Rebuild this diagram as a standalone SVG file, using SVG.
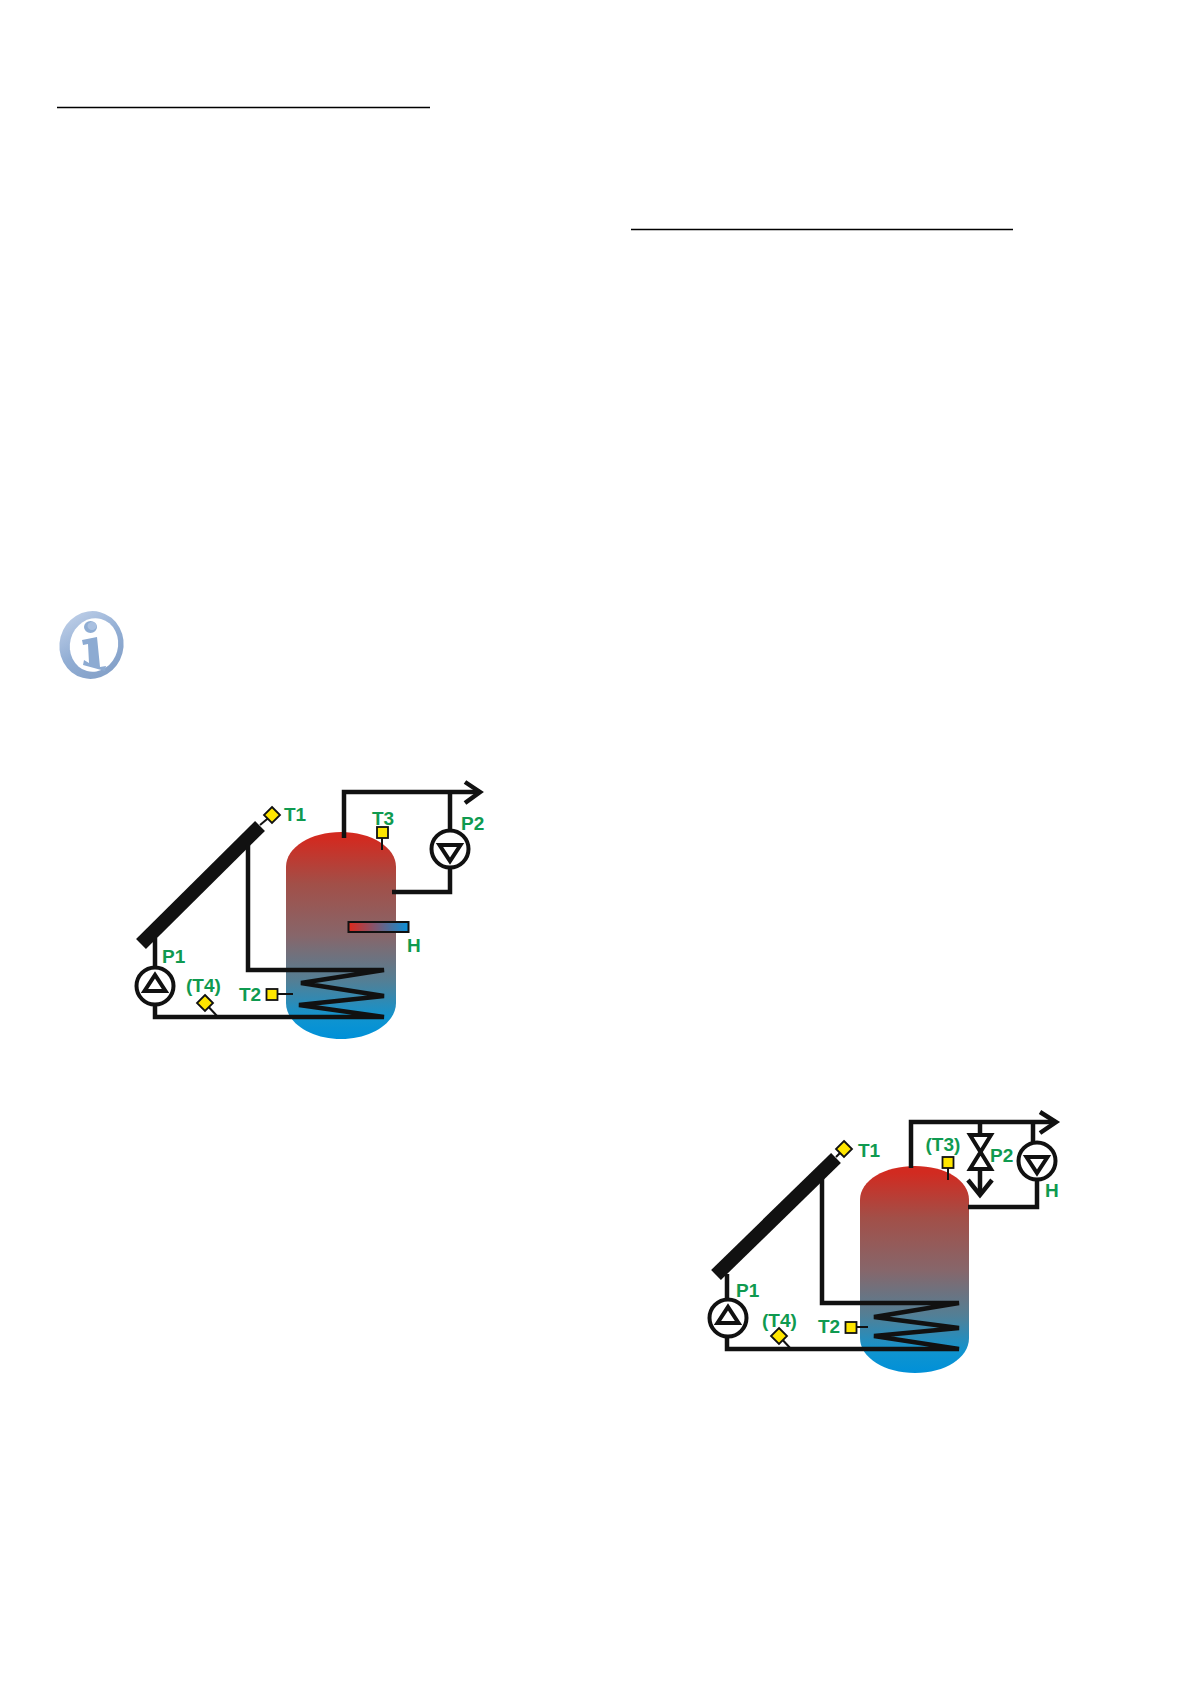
<svg xmlns="http://www.w3.org/2000/svg" width="1191" height="1684" viewBox="0 0 1191 1684">
<style>
.pipe{fill:none;stroke:#111;stroke-width:4.500;stroke-linejoin:miter}
.thin{fill:none;stroke:#111;stroke-width:2}
.col{fill:none;stroke:#111;stroke-width:14}
.pump{fill:none;stroke:#111;stroke-width:4}
.tri{fill:none;stroke:#111;stroke-width:4;stroke-linejoin:miter}
.sen{fill:#ffe600;stroke:#111;stroke-width:1.800}
.lab{font-family:"Liberation Sans",Arial,sans-serif;font-weight:700;font-size:19px;fill:#0f9a50}
.rule{stroke:#000;stroke-width:1.600}
</style>
<defs>
<linearGradient id="tank" x1="0" y1="0" x2="0" y2="1">
<stop offset="0.03" stop-color="#d22a20"/>
<stop offset="0.25" stop-color="#a24f48"/>
<stop offset="0.5" stop-color="#87666a"/>
<stop offset="0.72" stop-color="#537f95"/>
<stop offset="0.9" stop-color="#0f94d0"/>
<stop offset="1" stop-color="#0090d8"/>
</linearGradient>
<linearGradient id="heat" x1="0" y1="0" x2="1" y2="0">
<stop offset="0" stop-color="#e0281c"/>
<stop offset="1" stop-color="#0a90d8"/>
</linearGradient>
<linearGradient id="ring" x1="0" y1="0" x2="1" y2="1">
<stop offset="0" stop-color="#c8d6ec"/>
<stop offset="0.5" stop-color="#92aed4"/>
<stop offset="1" stop-color="#7f9cc4"/>
</linearGradient>
</defs>

<g id="rules">
<line class="rule" x1="57" y1="107.500" x2="430" y2="107.500"/>
<line class="rule" x1="631" y1="229.500" x2="1013" y2="229.500"/>
</g>

<g id="info-icon">
<ellipse cx="91.500" cy="645" rx="32" ry="34" fill="url(#ring)" transform="rotate(15 91.500 645)"/>
<ellipse cx="94" cy="645" rx="24" ry="27" fill="#fff" transform="rotate(15 94 645)"/>
<ellipse cx="90.500" cy="627" rx="6.500" ry="6" fill="#8fadd3"/>
<ellipse cx="92" cy="626" rx="4.500" ry="4" fill="#a9c0e0"/>
<path d="M82 640L97 637L100 667L106 666L105 671L83 665L84 660L89 663L88 644L83 645Z" fill="#8dabd2"/>
</g>

<g id="diagram-1">
<g id="tank-1"><path d="M286 867C286 847 311 832 341 832C371 832 396 847 396 867V1003C396 1023 371 1039 341 1039C311 1039 286 1023 286 1003Z" fill="url(#tank)"/></g>
<g id="heater-1"><rect x="348.500" y="922" width="60" height="10" fill="url(#heat)" stroke="#111" stroke-width="2"/><text class="lab" x="407" y="952">H</text></g>
<g id="collector-1"><line class="col" x1="141" y1="944" x2="260" y2="826"/><line class="thin" x1="260" y1="825" x2="272" y2="815"/></g>
<g id="connectors-1">
<path class="pipe" d="M344 838V792H480"/>
<path class="pipe" d="M465 782L480 792L465 803"/>
<path class="pipe" d="M450 792V832M450 866V892H392"/>
<path class="pipe" d="M248 845V970H384L301 983L384 996L299 1005L384 1017H155V1005M155 967V938"/>
<line class="thin" x1="382" y1="838" x2="382" y2="850"/>
<line class="thin" x1="272" y1="994" x2="293" y2="994"/>
<line class="thin" x1="205" y1="1003" x2="217" y2="1016"/>
</g>
<g id="p2-1"><circle class="pump" cx="450" cy="849" r="18.500"/><path class="tri" d="M439.500 845H460.500L450 861Z"/><text class="lab" x="461" y="830">P2</text></g>
<g id="p1-1"><circle class="pump" cx="155" cy="986" r="18.500"/><path class="tri" d="M144.500 991H165.500L155 975Z"/><text class="lab" x="162" y="963">P1</text></g>
<g id="t1-1"><path class="sen" d="M272 807L280 815L272 823L264 815Z"/><text class="lab" x="284" y="821">T1</text></g>
<g id="t3-1"><rect class="sen" x="377" y="827" width="11" height="11"/><text class="lab" x="372" y="825">T3</text></g>
<g id="t2-1"><rect class="sen" x="266.500" y="989" width="11" height="11"/><text class="lab" x="239" y="1001">T2</text></g>
<g id="t4-1"><path class="sen" d="M205 995L213 1003L205 1011L197 1003Z"/><text class="lab" x="186" y="992">(T4)</text></g>
</g>

<g id="diagram-2">
<g id="tank-2"><path d="M860 1200C860 1180 885 1166 915 1166C945 1166 969 1180 969 1200V1338C969 1358 945 1373 915 1373C885 1373 860 1358 860 1338Z" fill="url(#tank)"/></g>
<g id="collector-2"><line class="col" x1="716" y1="1275" x2="836" y2="1158"/><line class="thin" x1="836" y1="1157" x2="844" y2="1149"/></g>
<g id="connectors-2">
<path class="pipe" d="M911 1168V1122H1056"/>
<path class="pipe" d="M1040 1112L1056 1122L1040 1133"/>
<path class="pipe" d="M1033 1122V1142M1037 1180V1207H968"/>
<path class="pipe" d="M822 1178V1303H959L874 1317L959 1328L874 1336L959 1349H727V1335M727 1299V1274"/>
<path class="pipe" d="M980 1122V1134M980 1169V1194"/>
<path class="pipe" d="M968 1180L980 1195L992 1180"/>
<line class="thin" x1="948" y1="1168" x2="948" y2="1180"/>
<line class="thin" x1="851" y1="1327" x2="868" y2="1327"/>
<line class="thin" x1="779" y1="1336" x2="791" y2="1349"/>
</g>
<g id="valve-2"><path class="tri" d="M970 1135H991L980.500 1152L970 1169H991L980.500 1152Z"/><text class="lab" x="990" y="1162">P2</text></g>
<g id="p2-2"><circle class="pump" cx="1037" cy="1161" r="18.500"/><path class="tri" d="M1026.500 1157H1047.500L1037 1173Z"/><text class="lab" x="1045" y="1197">H</text></g>
<g id="p1-2"><circle class="pump" cx="728" cy="1318" r="18.500"/><path class="tri" d="M717.500 1323H738.500L728 1307Z"/><text class="lab" x="736" y="1297">P1</text></g>
<g id="t1-2"><path class="sen" d="M844 1141L852 1149L844 1157L836 1149Z"/><text class="lab" x="858" y="1157">T1</text></g>
<g id="t3-2"><rect class="sen" x="942.500" y="1157" width="11" height="11"/><text class="lab" x="925.500" y="1151">(T3)</text></g>
<g id="t2-2"><rect class="sen" x="845.500" y="1322" width="11" height="11"/><text class="lab" x="818" y="1333">T2</text></g>
<g id="t4-2"><path class="sen" d="M779 1328L787 1336L779 1344L771 1336Z"/><text class="lab" x="762" y="1327">(T4)</text></g>
</g>
</svg>
